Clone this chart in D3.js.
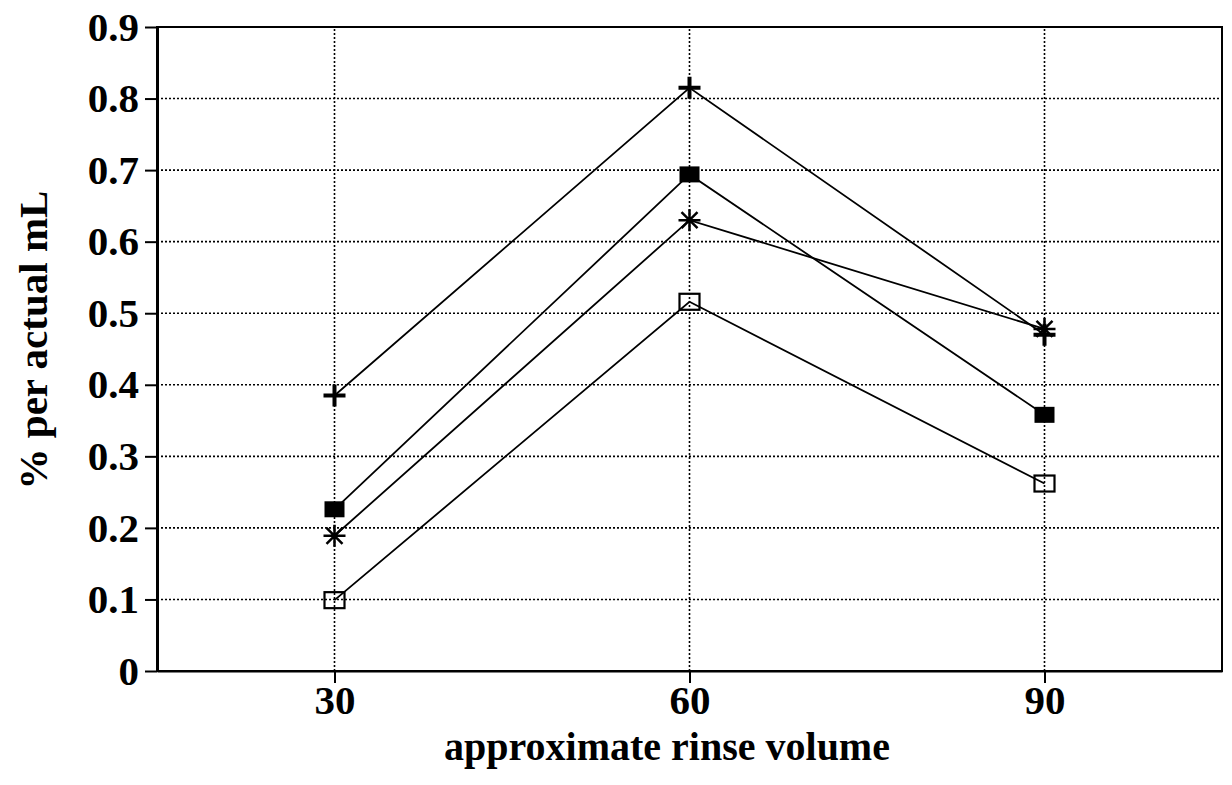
<!DOCTYPE html>
<html>
<head>
<meta charset="utf-8">
<script src="https://cdn.jsdelivr.net/npm/d3@7"></script>
<style>
  body { margin: 0; background: #fff; }
  svg { display: block; font-family: "Liberation Serif", "Times New Roman", serif; font-weight: bold; }
</style>
</head>
<body>
<script>
// data
const volumes = [30, 60, 90];
const plusSeries = [0.385, 0.815, 0.470];
const filledSquare = [0.226, 0.694, 0.358];
const starSeries = [0.189, 0.630, 0.478];
const openSquare = [0.099, 0.516, 0.262];
const yTicks = [0, 0.1, 0.2, 0.3, 0.4, 0.5, 0.6, 0.7, 0.8, 0.9];

const series = [
  { name: "plus", values: plusSeries },
  { name: "filled", values: filledSquare },
  { name: "star", values: starSeries },
  { name: "open", values: openSquare }
];

const width = 1232, height = 785;
const margin = { top: 27, right: 10, bottom: 114, left: 157 };

const x = d3.scaleLinear().domain([15, 105]).range([margin.left, width - margin.right]);
const y = d3.scaleLinear().domain([0, 0.9]).range([height - margin.bottom, margin.top]);

const svg = d3.select("body").append("svg")
  .attr("width", width)
  .attr("height", height);

// grid
svg.append("g")
  .selectAll("line")
  .data(yTicks.filter(d => d > 0 && d < 0.9))
  .join("line")
  .attr("x1", x(15)).attr("x2", x(105))
  .attr("y1", d => y(d)).attr("y2", d => y(d))
  .attr("stroke", "#000").attr("stroke-width", 1.6)
  .attr("stroke-dasharray", "2,2");

svg.append("g")
  .selectAll("line")
  .data(volumes)
  .join("line")
  .attr("x1", d => x(d)).attr("x2", d => x(d))
  .attr("y1", y(0)).attr("y2", y(0.9))
  .attr("stroke", "#000").attr("stroke-width", 1.6)
  .attr("stroke-dasharray", "2,2");

// frame
svg.append("rect")
  .attr("x", x(15)).attr("y", y(0.9))
  .attr("width", x(105) - x(15)).attr("height", y(0) - y(0.9))
  .attr("fill", "none").attr("stroke", "#000").attr("stroke-width", 2);

// y axis
const yAxis = svg.append("g")
  .attr("transform", `translate(${x(15)},0)`)
  .call(d3.axisLeft(y).tickValues(yTicks).tickSize(12).tickSizeOuter(0).tickPadding(6)
    .tickFormat(d => d === 0 ? "0" : d3.format(".1f")(d)));
yAxis.select(".domain").attr("stroke-width", 3);
yAxis.selectAll(".tick line").attr("stroke-width", 2);
yAxis.selectAll("text")
  .attr("font-family", "Liberation Serif, serif")
  .attr("font-weight", "bold")
  .attr("font-size", 41)
  .attr("fill", "#000");

// x axis
const xAxis = svg.append("g")
  .attr("transform", `translate(0,${y(0)})`)
  .call(d3.axisBottom(x).tickValues(volumes).tickSize(12).tickSizeOuter(0).tickPadding(2));
xAxis.select(".domain").attr("stroke-width", 2);
xAxis.selectAll(".tick line").attr("stroke-width", 2);
xAxis.selectAll("text")
  .attr("font-family", "Liberation Serif, serif")
  .attr("font-weight", "bold")
  .attr("font-size", 41)
  .attr("fill", "#000");

// lines
const line = d3.line()
  .x((d, i) => x(volumes[i]))
  .y(d => y(d));

svg.append("g")
  .selectAll("path")
  .data(series)
  .join("path")
  .attr("d", d => line(d.values))
  .attr("fill", "none")
  .attr("stroke", "#000")
  .attr("stroke-width", 1.8);

// markers
function drawMarker(g, kind) {
  if (kind === "plus") {
    g.append("path").attr("d", "M-11,0H11M0,-11V11")
      .attr("stroke", "#000").attr("stroke-width", 4);
  } else if (kind === "filled") {
    g.append("rect").attr("x", -10).attr("y", -8).attr("width", 20).attr("height", 16)
      .attr("fill", "#000");
  } else if (kind === "star") {
    g.append("path").attr("d", "M-11,0H11M0,-11V11M-8,-8L8,8M-8,8L8,-8")
      .attr("stroke", "#000").attr("stroke-width", 2.5);
  } else {
    g.append("rect").attr("x", -10).attr("y", -8).attr("width", 20).attr("height", 16)
      .attr("fill", "none").attr("stroke", "#000").attr("stroke-width", 2.2);
  }
}

series.forEach(s => {
  svg.append("g")
    .selectAll("g")
    .data(s.values)
    .join("g")
    .attr("transform", (d, i) => `translate(${x(volumes[i])},${y(d)})`)
    .each(function () { drawMarker(d3.select(this), s.name); });
});

// titles
svg.append("text")
  .attr("x", 667).attr("y", 760)
  .attr("text-anchor", "middle")
  .attr("font-size", 40)
  .text("approximate rinse volume");

svg.append("text")
  .attr("transform", `translate(47,340) rotate(-90)`)
  .attr("text-anchor", "middle")
  .attr("font-size", 41)
  .text("% per actual mL");
</script>
</body>
</html>
